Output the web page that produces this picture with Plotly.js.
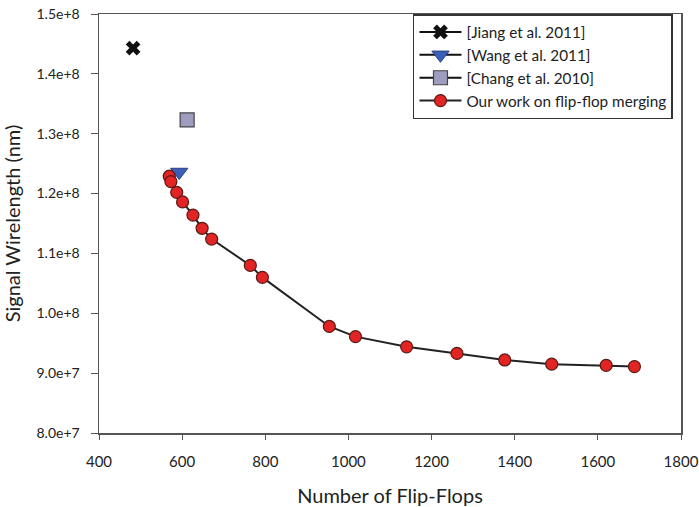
<!DOCTYPE html>
<html>
<head>
<meta charset="utf-8">
<script src="https://cdn.plot.ly/plotly-3.0.1.min.js"></script>
<style>html,body{margin:0;padding:0;background:#fff;}#chart{width:699px;height:507px;}</style>
</head>
<body>
<div id="chart"></div>
<script>
const jiangX = [482];
const jiangY = [1.443e8];
const wangX = [593];
const wangY = [1.236e8];
const changX = [612];
const changY = [1.323e8];
const oursX = [569, 573, 587, 601, 626, 648, 671, 764, 793, 954, 1017, 1140, 1261, 1376, 1489, 1620, 1688];
const oursY = [1.229e8, 1.220e8, 1.202e8, 1.186e8, 1.164e8, 1.142e8, 1.124e8, 1.080e8, 1.060e8, 9.78e7, 9.61e7, 9.44e7, 9.33e7, 9.22e7, 9.15e7, 9.13e7, 9.11e7];
const seriesNames = ['[Jiang et al. 2011]', '[Wang et al. 2011]', '[Chang et al. 2010]', 'Our work on flip-flop merging'];

const font = 'Lato, "Open Sans", sans-serif';
const traces = [
  {x: jiangX, y: jiangY, name: seriesNames[0], mode: 'lines+markers', type: 'scatter',
   line: {color: '#111', width: 2},
   marker: {symbol: 'x', size: 13, color: '#111', line: {width: 0}}},
  {x: wangX, y: wangY, name: seriesNames[1], mode: 'lines+markers', type: 'scatter',
   line: {color: '#111', width: 2},
   marker: {symbol: 'triangle-down', size: 15, color: '#3b5fb8', line: {color: '#2b3f80', width: 1}}},
  {x: changX, y: changY, name: seriesNames[2], mode: 'lines+markers', type: 'scatter',
   line: {color: '#111', width: 2},
   marker: {symbol: 'square', size: 14, color: '#9d9dc0', line: {color: '#444', width: 1.2}}},
  {x: oursX, y: oursY, name: seriesNames[3], mode: 'lines+markers', type: 'scatter',
   line: {color: '#222', width: 2},
   marker: {symbol: 'circle', size: 12, color: '#e32424', line: {color: '#5a1a14', width: 1.2}}}
];

const layout = {
  width: 699, height: 507,
  margin: {l: 99, r: 18, t: 14, b: 74},
  paper_bgcolor: '#fff', plot_bgcolor: '#fff',
  font: {family: font, color: '#222', size: 14},
  showlegend: true,
  legend: {x: 0.5395, y: 1.0, xanchor: 'left', yanchor: 'top',
           bordercolor: '#333', borderwidth: 1.5, bgcolor: '#fff',
           font: {family: font, size: 15.3, color: '#222'},
           tracegroupgap: 0, itemwidth: 42},
  xaxis: {range: [400, 1800], dtick: 200, tick0: 400,
          showgrid: false, zeroline: false,
          showline: true, linecolor: '#555', linewidth: 1.5, mirror: true,
          ticks: 'outside', ticklen: 5, tickcolor: '#555', ticklabelstandoff: 9,
          tickfont: {size: 15, family: font, color: '#222'},
          title: {text: 'Number of Flip-Flops', font: {size: 20, family: font, color: '#222'}, standoff: 22}},
  yaxis: {range: [8e7, 1.5e8], dtick: 1e7, tick0: 8e7, tickformat: '.1e',
          showgrid: false, zeroline: false,
          showline: true, linecolor: '#555', linewidth: 1.5, mirror: true,
          ticks: 'outside', ticklen: 7, tickcolor: '#555', ticklabelstandoff: 8,
          tickfont: {size: 14, family: font, color: '#222'},
          title: {text: 'Signal Wirelength (nm)', font: {size: 20, family: font, color: '#222'}, standoff: 10}}
};

Plotly.newPlot('chart', traces, layout, {displayModeBar: false, staticPlot: true});
</script>
</body>
</html>
